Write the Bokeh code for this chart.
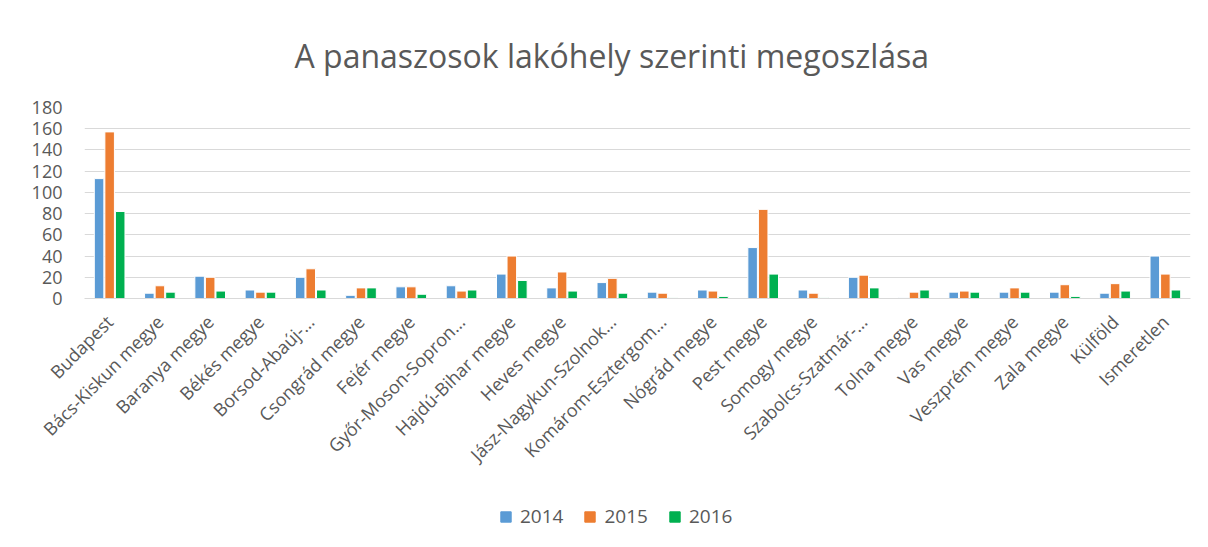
from bokeh.plotting import figure
from bokeh.layouts import column
from bokeh.models import ColumnDataSource, FactorRange, Legend, LegendItem, Range1d, FixedTicker
from bokeh.transform import dodge
from bokeh.embed import file_html
from bokeh.resources import INLINE
import math

categories = ["Budapest", "Bács-Kiskun megye", "Baranya megye", "Békés megye", "Borsod-Abaúj-…",
              "Csongrád megye", "Fejér megye", "Győr-Moson-Sopron…", "Hajdú-Bihar megye", "Heves megye",
              "Jász-Nagykun-Szolnok…", "Komárom-Esztergom…", "Nógrád megye", "Pest megye", "Somogy megye",
              "Szabolcs-Szatmár-…", "Tolna megye", "Vas megye", "Veszprém megye", "Zala megye",
              "Külföld", "Ismeretlen"]
v2014 = [113, 5, 21, 8, 20, 3, 11, 12, 23, 10, 15, 6, 8, 48, 8, 20, 1, 6, 6, 6, 5, 40]
v2015 = [157, 12, 20, 6, 28, 10, 11, 7, 40, 25, 19, 5, 7, 84, 5, 22, 6, 7, 10, 13, 14, 23]
v2016 = [82, 6, 7, 6, 8, 10, 4, 8, 17, 7, 5, 1, 2, 23, 1, 10, 8, 6, 6, 2, 7, 8]
series = ["2014", "2015", "2016"]
colors = ["#5B9BD5", "#ED7D31", "#00B050"]
y_ticks = [0, 20, 40, 60, 80, 100, 120, 140, 160, 180]

src = ColumnDataSource(dict(cat=categories, v2014=v2014, v2015=v2015, v2016=v2016))

FONT = "Open Sans"
GRAY = "#595959"

p = figure(x_range=FactorRange(*categories), y_range=Range1d(0, 180),
           width=1192, height=479, output_backend="svg", toolbar_location=None,
           min_border_left=84, min_border_right=2, min_border_top=105, min_border_bottom=181)

p.title.text = "A panaszosok lakóhely szerinti megoszlása"
p.title.align = "left"
p.title.text_font = FONT
p.title.text_font_size = "32px"
p.title.text_font_style = "normal"
p.title.text_color = GRAY
p.title.offset = 210
p.title.standoff = 62

offsets = [-0.21, 0.0, 0.21]
for s, c, off in zip(series, colors, offsets):
    p.vbar(x=dodge("cat", off, range=p.x_range), top="v" + s, width=0.19, source=src,
           fill_color=c, line_color="white", line_width=1)

p.x_range.range_padding = 0
p.x_range.group_padding = 0

p.yaxis.ticker = FixedTicker(ticks=y_ticks)
p.yaxis.axis_line_color = None
p.yaxis.major_tick_line_color = None
p.yaxis.minor_tick_line_color = None
p.yaxis.major_label_text_font = FONT
p.yaxis.major_label_text_font_size = "18px"
p.yaxis.major_label_text_color = GRAY
p.yaxis.major_label_standoff = 16

p.xaxis.axis_line_color = "#d9d9d9"
p.xaxis.major_tick_line_color = None
p.xaxis.minor_tick_line_color = None
p.xaxis.major_label_orientation = math.pi / 4
p.xaxis.major_label_text_font = FONT
p.xaxis.major_label_text_font_size = "18px"
p.xaxis.major_label_text_color = GRAY
p.xaxis.major_label_standoff = 14

p.xgrid.grid_line_color = None
p.ygrid.grid_line_color = "#d9d9d9"
p.ygrid.ticker = FixedTicker(ticks=y_ticks)

p.outline_line_color = None
p.border_fill_color = "white"

# legend strip below the chart
p2 = figure(width=1192, height=60, x_range=Range1d(0, 1), y_range=Range1d(0, 1),
            output_backend="svg", toolbar_location=None, min_border=0)
p2.axis.visible = False
p2.grid.visible = False
p2.outline_line_color = None
leg_renderers = []
for s, c in zip(series, colors):
    r = p2.vbar(x=[float("nan")], top=[float("nan")], width=0.1,
                fill_color=c, line_color=c)
    leg_renderers.append(r)

legend = Legend(items=[LegendItem(label=s, renderers=[r]) for s, r in zip(series, leg_renderers)],
                orientation="horizontal", location=(415, 10),
                label_text_font=FONT, label_text_font_size="19px", label_text_color=GRAY,
                glyph_width=13, glyph_height=13, spacing=20, label_standoff=8,
                padding=4, margin=0,
                border_line_color=None, background_fill_alpha=0)
p2.add_layout(legend, "center")

layout = column(p, p2, spacing=0)
open("out.html", "w").write(file_html(layout, INLINE))
